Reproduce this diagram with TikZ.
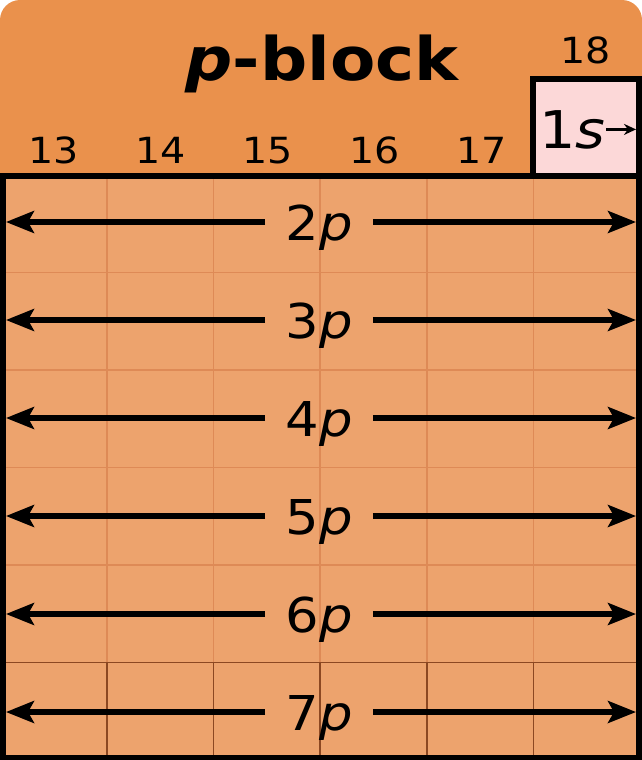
\documentclass[tikz,border=0pt]{standalone}
\usepackage{fontspec}
\setmainfont{DejaVu Sans}[FakeStretch=1.1]
\usetikzlibrary{arrows.meta}

\definecolor{headorange}{RGB}{234,145,76}
\definecolor{bodyorange}{RGB}{237,163,109}
\definecolor{spink}{RGB}{252,216,216}
\definecolor{gridfaint}{RGB}{222,138,86}
\definecolor{griddark}{RGB}{140,72,34}

\begin{document}
\begin{tikzpicture}[x=0.5pt,y=0.5pt,
		orb/.style={line width=2.6pt,-{Stealth[length=14pt,width=11pt,inset=3pt]}},
		orblabel/.style={font=\fontsize{24}{24}\selectfont, anchor=base, inner xsep=10pt, inner ysep=0pt},
		groupnum/.style={font=\fontsize{18}{18}\selectfont, anchor=base}]
		\useasboundingbox (0,0) rectangle (642,-760);

		% Draw the header with rounded top corners
		\fill[headorange, rounded corners=10pt] (0,0) rectangle (642,-100);
		\fill[headorange] (0,-40) rectangle (642,-175);

		% Draw the body
		\fill[bodyorange] (0,-175) rectangle (642,-760);

		% Draw the faint cell lines (periods 2 to 6)
		\foreach \x in {107,213.5,320,427,533.5} {
				\draw[gridfaint, line width=0.8pt] (\x,-175) -- (\x,-662.5);
				\draw[griddark, line width=0.8pt] (\x,-662.5) -- (\x,-760);
			}
		\foreach \y in {272.5,370,467.5,565} {
				\draw[gridfaint, line width=0.8pt] (0,-\y) -- (642,-\y);
			}
		\draw[griddark, line width=0.8pt] (0,-662.5) -- (642,-662.5);

		% Draw the border of the body
		\draw[line width=3pt] (2.5,-176) rectangle (639,-757.5);

		% Draw the 1s box
		\filldraw[fill=spink, line width=3pt] (533,-79) rectangle (639,-176);
		\node (s1) [font=\fontsize{26}{26}\selectfont, anchor=base west, inner sep=0pt] at (539,-148) {1\textit{s}};
		\coordinate (s1end) at (636,0);
		\draw[line width=1.3pt, -{Stealth[length=6pt,width=5.5pt]}] (s1.east) -- (s1.east -| s1end);

		% Draw the header texts
		\node (title) [font=\fontsize{30}{30}\selectfont\bfseries, anchor=base] at (322,-80) {\textit{p}-block};
		\foreach \g [count=\i from 0] in {13,...,17} {
				\node (g\g) [groupnum] at (53.5+107*\i,-163) {\g};
			}
		\node (g18) [groupnum] at (586,-63) {18};

		% Draw the subshell arrows
		\foreach \n [count=\i from 0] in {2,...,7} {
				\node (r\n) [orblabel] at (319,-240-98*\i) {\n\textit{p}};
				\coordinate (left\n) at (6,-222-98*\i);
				\coordinate (right\n) at (636,-222-98*\i);
				\draw[orb] (r\n.west |- left\n) -- (left\n);
				\draw[orb] (r\n.east |- right\n) -- (right\n);
			}
	\end{tikzpicture}
\end{document}
